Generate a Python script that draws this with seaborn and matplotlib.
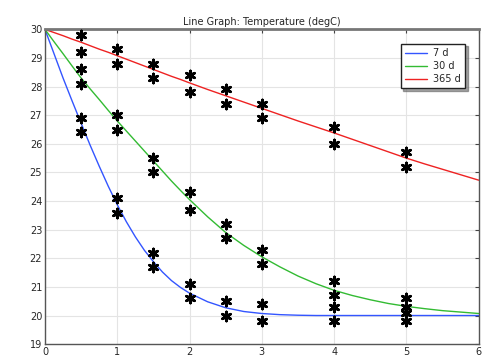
import matplotlib
matplotlib.use("Agg")
import matplotlib.pyplot as plt
import pandas as pd
import seaborn as sns

# curve samples
curve_x = [0, 0.125, 0.25, 0.375, 0.5, 0.625, 0.75, 0.875, 1.0, 1.125, 1.25, 1.375, 1.5,
           1.625, 1.75, 1.875, 2.0, 2.25, 2.5, 2.75, 3.0, 3.25, 3.5, 3.75, 4.0, 4.25,
           4.5, 4.75, 5.0, 5.25, 5.5, 5.75, 6.0]
temp_7d = [30.0, 29.15, 28.3, 27.5, 26.72, 25.95, 25.22, 24.52, 23.87, 23.28, 22.75, 22.28, 21.88,
           21.52, 21.22, 20.98, 20.78, 20.48, 20.27, 20.14, 20.07, 20.03, 20.01, 20.0, 20.0, 20.0,
           20.0, 20.0, 20.0, 20.0, 20.0, 20.0, 20.0]
temp_30d = [30.0, 29.57, 29.15, 28.72, 28.3, 27.92, 27.55, 27.17, 26.8, 26.45, 26.1, 25.75, 25.4,
            25.05, 24.7, 24.37, 24.05, 23.45, 22.9, 22.45, 22.05, 21.7, 21.38, 21.11, 20.88, 20.7,
            20.55, 20.42, 20.32, 20.24, 20.17, 20.12, 20.07]
temp_365d = [30.0, 29.89, 29.78, 29.66, 29.55, 29.43, 29.31, 29.2, 29.08, 28.96, 28.84, 28.72, 28.6,
             28.48, 28.36, 28.25, 28.13, 27.9, 27.68, 27.46, 27.24, 27.02, 26.8, 26.59, 26.38, 26.16,
             25.94, 25.72, 25.5, 25.3, 25.11, 24.92, 24.73]
labels = ["7 d", "30 d", "365 d"]
colors = ["#3355ff", "#33bb33", "#ee2222"]

# measured points
meas_x = [0.5] * 6 + [1.0] * 6 + [1.5] * 6 + [2.0] * 6 + [2.5] * 6 + [3.0] * 6 + [4.0] * 6 + [5.0] * 6
meas_y = [29.8, 29.2, 28.6, 28.1, 26.9, 26.4,
          29.3, 28.8, 27.0, 26.5, 24.1, 23.6,
          28.8, 28.3, 25.5, 25.0, 22.2, 21.7,
          28.4, 27.8, 24.3, 23.7, 21.1, 20.6,
          27.9, 27.4, 23.2, 22.7, 20.5, 20.0,
          27.4, 26.9, 22.3, 21.8, 20.4, 19.8,
          26.6, 26.0, 21.2, 20.7, 20.3, 19.8,
          25.7, 25.2, 20.6, 20.3, 20.1, 19.8]

n = len(curve_x)
curves = pd.DataFrame({
    "x": curve_x * 3,
    "T": temp_7d + temp_30d + temp_365d,
    "case": [labels[0]] * n + [labels[1]] * n + [labels[2]] * n,
})
points = pd.DataFrame({"x": meas_x, "T": meas_y})

sns.set_style("whitegrid")
plt.rcParams["font.family"] = ["DejaVu Sans"]

fig = plt.figure(figsize=(4.89, 3.63), dpi=100)
ax = fig.add_axes([0.092, 0.052, 0.887, 0.867])

sns.lineplot(data=curves, x="x", y="T", hue="case", palette=colors,
             estimator=None, sort=False, linewidth=1.0, ax=ax)
sns.scatterplot(data=points, x="x", y="T", marker=(6, 2, 0), s=42,
                color="black", linewidth=2.0, ax=ax, legend=False, zorder=3)

ax.set_xlim(0, 6)
ax.set_ylim(19, 30)
ax.set_xticks(range(0, 7))
ax.set_yticks(range(19, 31))
ax.set_xlabel("")
ax.set_ylabel("")
ax.set_title("Line Graph: Temperature (degC)", fontsize=7, pad=3)
ax.grid(True, color="#e4e4e4", linewidth=0.8)
ax.tick_params(axis="both", labelsize=7, direction="in", length=3,
               top=True, right=True, color="#444444", pad=2)
for side, sp in ax.spines.items():
    sp.set_color("#555555")
    sp.set_linewidth(1.0)
ax.spines["top"].set_linewidth(2.0)
ax.spines["top"].set_color("#777777")

leg = ax.legend(loc="upper right", fontsize=7, frameon=True, fancybox=False,
                shadow=True, borderpad=0.45, handlelength=2.3, handletextpad=0.6,
                labelspacing=0.3, bbox_to_anchor=(0.98, 0.97))
leg.get_frame().set_edgecolor("#222222")
leg.get_frame().set_linewidth(1.0)

fig.savefig("out.png", dpi=100)
